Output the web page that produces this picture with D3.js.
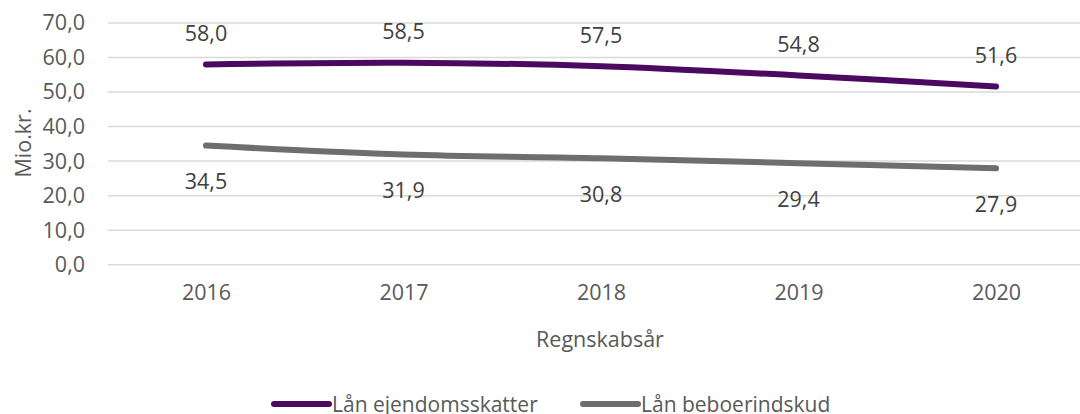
<!DOCTYPE html>
<html>
<head>
<meta charset="utf-8">
<script src="https://cdn.jsdelivr.net/npm/d3@7"></script>
<style>
  body { margin: 0; background: #fff; }
  svg { display: block; font-family: "Open Sans", sans-serif; }
</style>
</head>
<body>
<svg id="chart"></svg>
<script>
// chart data
const years = ["2016", "2017", "2018", "2019", "2020"];
const ejendomsskatter = [58.0, 58.5, 57.5, 54.8, 51.6];
const beboerindskud = [34.5, 31.9, 30.8, 29.4, 27.9];
const yTicks = [0, 10, 20, 30, 40, 50, 60, 70];
const seriesNames = ["Lån ejendomsskatter", "Lån beboerindskud"];

const width = 1080, height = 414;
const colors = ["#4b0a5f", "#6e6e6e"];
const fontSize = 21.5;
const fmt = v => d3.format(".1f")(v).replace(".", ",");

const svg = d3.select("#chart")
    .attr("width", width)
    .attr("height", height);

// scales
const x = d3.scalePoint()
    .domain(years)
    .range([206, 996]);

const y = d3.scaleLinear()
    .domain([0, 70])
    .range([264.7, 23]);

// gridlines
svg.append("g")
  .selectAll("line")
  .data(yTicks)
  .join("line")
    .attr("x1", 108)
    .attr("x2", 1095)
    .attr("y1", d => y(d))
    .attr("y2", d => y(d))
    .attr("stroke", "#d9d9d9")
    .attr("stroke-width", 1.5);

// y axis labels
const yAxis = d3.axisLeft(y).tickValues(yTicks).tickFormat(fmt).tickSize(0).tickPadding(0);
const yAxisG = svg.append("g")
    .attr("transform", "translate(85,0)")
    .call(yAxis);
yAxisG.select(".domain").remove();
yAxisG.selectAll("text")
    .attr("font-size", fontSize)
    .attr("font-family", "Open Sans, sans-serif")
    .attr("fill", "#595959");

// x axis labels
const xAxis = d3.axisBottom(x).tickSize(0).tickPadding(0);
const xAxisG = svg.append("g")
    .attr("transform", "translate(0,285)")
    .call(xAxis);
xAxisG.select(".domain").remove();
xAxisG.selectAll("text")
    .attr("font-size", fontSize)
    .attr("font-family", "Open Sans, sans-serif")
    .attr("fill", "#595959");

// axis titles
svg.append("text")
    .attr("x", 600)
    .attr("y", 338)
    .attr("text-anchor", "middle")
    .attr("dominant-baseline", "central")
    .attr("font-size", fontSize)
    .attr("fill", "#595959")
    .text("Regnskabsår");

svg.append("text")
    .attr("transform", "translate(22,143) rotate(-90)")
    .attr("text-anchor", "middle")
    .attr("dominant-baseline", "central")
    .attr("font-size", fontSize)
    .attr("fill", "#595959")
    .text("Mio.kr.");

// lines
const line = d3.line()
    .x((d, i) => x(years[i]))
    .y(d => y(d))
    .curve(d3.curveCatmullRom.alpha(0.5));

const series = [ejendomsskatter, beboerindskud];
svg.append("g")
  .selectAll("path")
  .data(series)
  .join("path")
    .attr("d", line)
    .attr("fill", "none")
    .attr("stroke", (d, i) => colors[i])
    .attr("stroke-width", 6)
    .attr("stroke-linecap", "round");

// data labels
const offsets = [-32, 35];
series.forEach((s, si) => {
  svg.append("g")
    .selectAll("text")
    .data(s)
    .join("text")
      .attr("x", (d, i) => x(years[i]))
      .attr("y", d => y(d) + offsets[si])
      .attr("text-anchor", "middle")
      .attr("dominant-baseline", "central")
      .attr("font-size", fontSize)
      .attr("fill", "#404040")
      .text(fmt);
});

// legend
const legendX = [274, 583];
const legend = svg.append("g")
  .selectAll("g")
  .data(seriesNames)
  .join("g")
    .attr("transform", (d, i) => `translate(${legendX[i]},404)`);

legend.append("line")
    .attr("x1", 0)
    .attr("x2", 55)
    .attr("stroke", (d, i) => colors[i])
    .attr("stroke-width", 6)
    .attr("stroke-linecap", "round");

legend.append("text")
    .attr("x", 58)
    .attr("dominant-baseline", "central")
    .attr("font-size", 21)
    .attr("fill", "#595959")
    .text(d => d);
</script>
</body>
</html>
